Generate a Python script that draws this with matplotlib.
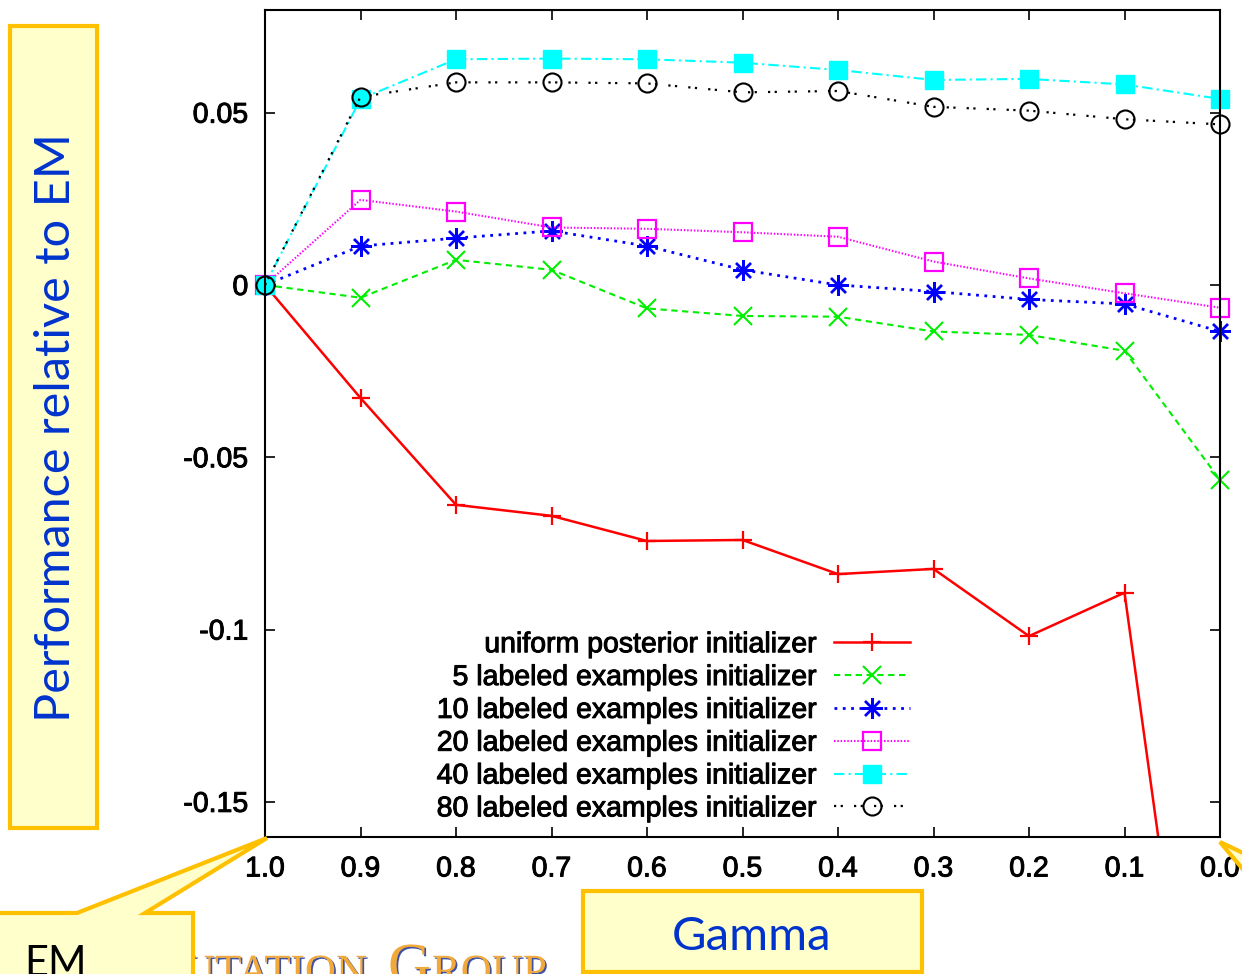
import matplotlib
matplotlib.use("Agg")
import matplotlib.pyplot as plt
import matplotlib.patheffects as pe
from matplotlib.patches import Rectangle, Polygon
from matplotlib.font_manager import FontProperties

# ---- data -------------------------------------------------------------
gamma = [1.0, 0.9, 0.8, 0.7, 0.6, 0.5, 0.4, 0.3, 0.2, 0.1, 0.0]

uniform_posterior = [0.0, -0.0328, -0.0638, -0.0670, -0.0743, -0.0740,
                     -0.0839, -0.0824, -0.1019, -0.0893, -0.2900]
labeled_5 = [0.0, -0.0037, 0.0073, 0.0044, -0.0068, -0.0090,
             -0.0092, -0.0135, -0.0145, -0.0191, -0.0566]
labeled_10 = [0.0, 0.0113, 0.0136, 0.0157, 0.0113, 0.0044,
              0.0000, -0.0019, -0.0042, -0.0055, -0.0135]
labeled_20 = [0.0, 0.0247, 0.0213, 0.0167, 0.0163, 0.0153,
              0.0140, 0.0068, 0.0019, -0.0024, -0.0066]
labeled_40 = [0.0, 0.0540, 0.0655, 0.0657, 0.0655, 0.0645,
              0.0624, 0.0595, 0.0598, 0.0582, 0.0540]
labeled_80 = [0.0, 0.0546, 0.0588, 0.0588, 0.0585, 0.0559,
              0.0563, 0.0517, 0.0506, 0.0481, 0.0466]

series_labels = [
    "uniform posterior initializer",
    "5 labeled examples initializer",
    "10 labeled examples initializer",
    "20 labeled examples initializer",
    "40 labeled examples initializer",
    "80 labeled examples initializer",
]

x_tick_labels = ["1.0", "0.9", "0.8", "0.7", "0.6", "0.5",
                 "0.4", "0.3", "0.2", "0.1", "0.0"]
y_ticks = [0.05, 0.0, -0.05, -0.1, -0.15]
y_tick_labels = ["0.05", "0", "-0.05", "-0.1", "-0.15"]

# ---- figure / axes ----------------------------------------------------
W, H = 1242, 974
fig = plt.figure(figsize=(W / 100, H / 100), dpi=100)
fig.patch.set_facecolor("white")


def fx(x):
    return x / W


def fy(y):
    return 1 - y / H


ax = fig.add_axes([fx(265), fy(837), (1220 - 265) / W, (837 - 10) / H])

tick_font = FontProperties(family="Liberation Sans", size=20.5)
legend_font = FontProperties(family="Liberation Sans", size=20.5)
heavy = [pe.withStroke(linewidth=0.7, foreground="black")]

styles = [
    dict(color="#FF0000", ls="-", lw=1.8, marker="+", ms=13, mew=1.6,
         clip_on=True),
    dict(color="#00EE00", ls=(0, (3.0, 2.2)), lw=1.5, marker="x", ms=13,
         mew=1.5, clip_on=False),
    dict(color="#0000FF", ls=(0, (1.0, 2.0)), lw=2.0, marker=(8, 2, 0),
         ms=15, mew=1.7, clip_on=False),
    dict(color="#FF00FF", ls=(0, (0.7, 0.9)), lw=1.5, marker="s", ms=13,
         mew=1.6, mfc="none", clip_on=False),
    dict(color="#00FFFF", ls=(0, (5.0, 2.0, 1.0, 2.0)), lw=1.5, marker="s",
         ms=13, mew=1.0, clip_on=False),
    dict(color="#000000", ls=(0, (1.0, 2.0, 1.0, 5.0)), lw=1.6, marker="o",
         ms=13, mew=1.5, mfc="none", clip_on=False),
]

all_series = [uniform_posterior, labeled_5, labeled_10,
              labeled_20, labeled_40, labeled_80]

for values, label, st in zip(all_series, series_labels, styles):
    st = dict(st)
    clip = st.pop("clip_on")
    ax.plot(gamma, values, label=label, clip_on=clip, zorder=3, **st)

ax.set_xlim(1.0, 0.0)
ax.set_ylim(-0.1602, 0.0798)

ax.set_xticks(gamma)
ax.set_xticklabels(x_tick_labels, fontproperties=tick_font)
ax.set_yticks(y_ticks)
ax.set_yticklabels(y_tick_labels, fontproperties=tick_font)
for lbl in ax.get_xticklabels() + ax.get_yticklabels():
    lbl.set_path_effects(heavy)

ax.tick_params(axis="both", direction="in", length=7, width=1.2,
               top=True, right=True, colors="black")
ax.tick_params(axis="x", pad=14)
ax.tick_params(axis="y", pad=12)
for sp in ax.spines.values():
    sp.set_linewidth(1.5)
    sp.set_zorder(4)

leg = ax.legend(loc="lower right", bbox_to_anchor=(0.6754, 0.0177),
                borderaxespad=0, borderpad=0, frameon=False,
                markerfirst=False, prop=legend_font, handlelength=2.67,
                handletextpad=0.63, labelspacing=0.24, numpoints=1)
for txt in leg.get_texts():
    txt.set_path_effects(heavy)

# ---- slide call-outs -------------------------------------------------
gold = "#FFC000"
pale = "#FFFFCC"
blue_text = "#0033CC"

# vertical axis caption box
fig.patches.append(Rectangle((fx(10), fy(828)), (97 - 10) / W, (828 - 26) / H,
                             transform=fig.transFigure, facecolor=pale,
                             edgecolor=gold, lw=3, zorder=5))
fig.text(fx(56), fy(427), "Performance relative to EM", rotation=90,
         ha="center", va="center", color=blue_text, fontsize=35,
         family="Lato", zorder=6)

# horizontal axis caption box
fig.patches.append(Rectangle((fx(583), fy(972)), (922 - 583) / W, (972 - 891) / H,
                             transform=fig.transFigure, facecolor=pale,
                             edgecolor=gold, lw=3, zorder=5))
fig.text(fx(752), fy(950), "Gamma", ha="center", va="baseline",
         color=blue_text, fontsize=34, family="Lato", zorder=6)

# logo lettering at the bottom edge
logo_fx = [pe.SimplePatchShadow(offset=(1.2, -1.2), shadow_rgbFace="#2a3f9a",
                                alpha=0.9), pe.Normal()]
fig.text(fx(184), fy(984), "UTATION", ha="left", va="baseline",
         color="#F2A93B", fontsize=31, family="Liberation Serif",
         zorder=4, path_effects=logo_fx)
fig.text(fx(388), fy(984), "G", ha="left", va="baseline",
         color="#F2A93B", fontsize=43, family="Liberation Serif",
         zorder=4, path_effects=logo_fx)
fig.text(fx(432), fy(984), "ROUP", ha="left", va="baseline",
         color="#F2A93B", fontsize=31, family="Liberation Serif",
         zorder=4, path_effects=logo_fx)

# "EM" call-out pointing to the gamma = 1.0 corner
em_pts = [(-10, 913), (77, 913), (267, 838), (145, 913), (193, 913),
          (193, 990), (-10, 990)]
fig.patches.append(Polygon([(fx(x), fy(y)) for x, y in em_pts], closed=True,
                           transform=fig.transFigure, facecolor=pale,
                           edgecolor=gold, lw=3, zorder=5))
fig.text(fx(55), fy(976), "EM", ha="center", va="baseline", color="black",
         fontsize=30, family="Lato", zorder=6)

# call-out tip at the gamma = 0.0 corner
tip_pts = [(1220, 842), (1262, 862), (1262, 892)]
fig.patches.append(Polygon([(fx(x), fy(y)) for x, y in tip_pts], closed=True,
                           transform=fig.transFigure, facecolor=pale,
                           edgecolor=gold, lw=3, zorder=5))

fig.savefig("out.png", dpi=100)
